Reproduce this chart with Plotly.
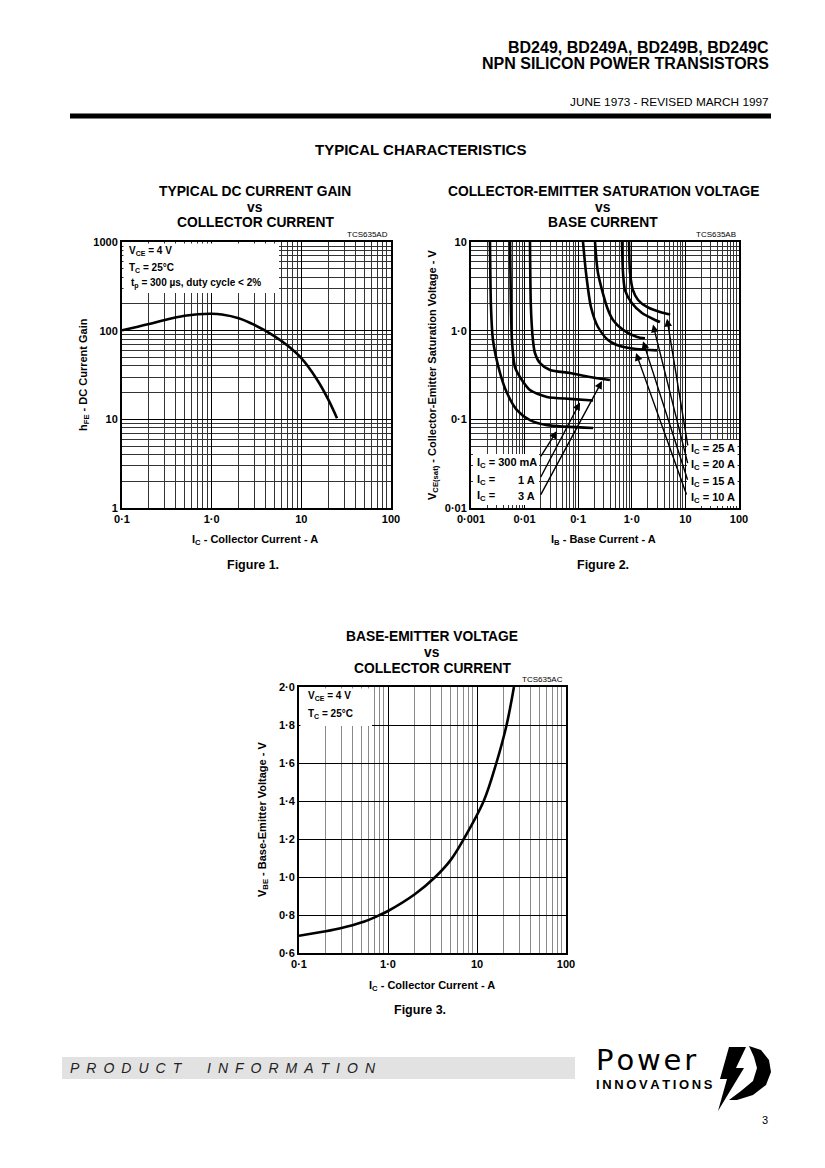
import numpy as np
import plotly.graph_objects as go

W, H = 825, 1168
OFF = 8  # the page body margin moves the figure by this many pixels
FONT = 'Liberation Sans, Arial, sans-serif'

# Figure 1 - hFE vs IC
ic_gain = [0.1, 0.15, 0.2, 0.3, 0.5, 0.7, 1.0, 1.3, 2.0, 3.0, 5.0, 7.0, 10, 15, 20, 25]
hfe = [101, 111, 119, 132, 147, 153, 155, 152, 138, 116, 87, 68, 49, 28, 16.7, 10.3]

# Figure 2 - VCE(sat) vs IB, one pair of lists per collector current
ib_300ma = [0.00226, 0.00236, 0.00257, 0.00348, 0.0047, 0.0072, 0.0126, 0.0262, 0.19]
vce_300ma = [10, 1.85, 0.785, 0.333, 0.198, 0.127, 0.098, 0.086, 0.08]
ib_1a = [0.00535, 0.00556, 0.0058, 0.0066, 0.0089, 0.0126, 0.0262, 0.070, 0.19]
vce_1a = [10, 1.85, 0.785, 0.389, 0.278, 0.214, 0.179, 0.17, 0.163]
ib_3a = [0.0126, 0.0131, 0.0143, 0.0156, 0.0194, 0.0298, 0.070, 0.166, 0.39]
vce_3a = [10, 1.85, 0.785, 0.56, 0.43, 0.36, 0.333, 0.30, 0.278]
ib_10a = [0.123, 0.140, 0.173, 0.234, 0.36, 0.60, 1.2, 2.95]
vce_10a = [10, 4.47, 1.85, 1.10, 0.785, 0.67, 0.62, 0.60]
ib_15a = [0.206, 0.234, 0.344, 0.446, 0.686, 1.25, 1.76]
vce_15a = [10, 4.47, 1.85, 1.32, 1.02, 0.85, 0.82]
ib_20a = [0.656, 0.686, 0.746, 1.0, 1.55, 2.71, 3.36]
vce_20a = [10, 4.47, 2.87, 2.05, 1.58, 1.32, 1.25]
ib_25a = [0.887, 0.93, 1.05, 1.31, 1.92, 3.36, 5.2]
vce_25a = [10, 4.47, 2.87, 2.22, 1.85, 1.62, 1.52]

# arrow tips (IB, VCE) and label text for figure 2
arrow_left_ib = [0.040, 0.108, 0.278]
arrow_left_v = [0.074, 0.155, 0.27]
arrow_right_ib = [4.54, 2.49, 1.62, 1.20]
arrow_right_v = [1.36, 1.17, 0.76, 0.56]
left_labels = ['300 mA', '1 A', '3 A']
right_labels = ['25 A', '20 A', '15 A', '10 A']

# Figure 3 - VBE vs IC
ic_vbe = [0.1, 0.2, 0.3, 0.5, 0.75, 1.0, 2.0, 3.4, 5.0, 7.1, 11.9, 16.5, 21.5, 26]
vbe = [0.691, 0.714, 0.731, 0.760, 0.793, 0.821, 0.909, 1.0, 1.086, 1.2, 1.4, 1.6, 1.8, 2.0]

# tick labels
gain_xticks = ['0·1', '1·0', '10', '100']
gain_yticks = ['1', '10', '100', '1000']
sat_xticks = ['0·001', '0·01', '0·1', '1·0', '10', '100']
sat_yticks = ['0·01', '0·1', '1·0', '10']
vbe_xticks = ['0·1', '1·0', '10', '100']
vbe_yvals = [0.6, 0.8, 1.0, 1.2, 1.4, 1.6, 1.8, 2.0]
vbe_yticks = ['0·6', '0·8', '1·0', '1·2', '1·4', '1·6', '1·8', '2·0']


def px(x):
    return (x - OFF) / W


def py(y):
    return 1 - (y - OFF) / H


def minor_vals(lo, hi):
    return [k * 10.0 ** e for e in range(lo, hi) for k in range(2, 10)]


tickfont = dict(size=11, family=FONT, color='black', weight='bold')


def log_axis(lo, hi, dom, anchor, labels, minor_color='#333333'):
    return dict(type='log', range=[lo, hi], domain=dom, anchor=anchor, automargin=False,
                showline=True, mirror=True, linecolor='black', linewidth=2,
                showgrid=True, gridcolor='black', gridwidth=1.3, zeroline=False,
                tickmode='array', tickvals=[10.0 ** e for e in range(lo, hi + 1)], ticktext=labels,
                ticks='', tickfont=tickfont,
                minor=dict(tickvals=minor_vals(lo, hi), showgrid=True, gridcolor=minor_color,
                           gridwidth=1, ticks=''))


fig = go.Figure()

line = dict(color='black', width=2.6, shape='spline', smoothing=1.0)
fig.add_trace(go.Scatter(x=ic_gain, y=hfe, mode='lines', line=line, xaxis='x', yaxis='y'))
for ib, v in [(ib_300ma, vce_300ma), (ib_1a, vce_1a), (ib_3a, vce_3a), (ib_10a, vce_10a),
              (ib_15a, vce_15a), (ib_20a, vce_20a), (ib_25a, vce_25a)]:
    fig.add_trace(go.Scatter(x=ib, y=v, mode='lines', line=dict(line, smoothing=0.7),
                             xaxis='x2', yaxis='y2'))
fig.add_trace(go.Scatter(x=ic_vbe, y=vbe, mode='lines', line=line, xaxis='x3', yaxis='y3'))

top_dom = [py(508), py(242)]
fig.update_layout(
    xaxis=log_axis(-1, 2, [px(122), px(391)], 'y', gain_xticks),
    yaxis=log_axis(0, 3, top_dom, 'x', gain_yticks),
    xaxis2=log_axis(-3, 2, [px(471), px(739)], 'y2', sat_xticks),
    yaxis2=log_axis(-2, 1, top_dom, 'x2', sat_yticks),
    xaxis3=log_axis(-1, 2, [px(299), px(566)], 'y3', vbe_xticks, minor_color='#8a8a8a'),
    yaxis3=dict(range=[0.6, 2.0], domain=[py(953), py(687)], anchor='x3', automargin=False,
                showline=True, mirror=True, linecolor='black', linewidth=2,
                showgrid=True, gridcolor='black', gridwidth=1, zeroline=False,
                tickmode='array', tickvals=vbe_yvals, ticktext=vbe_yticks, ticks='',
                tickfont=tickfont),
)

ann = []


def txt(x, y, s, size=11, anchor='center', bold=True, angle=0, family=FONT, color='black', italic=False):
    ann.append(dict(x=px(x), y=py(y), xref='paper', yref='paper', text=s, showarrow=False,
                    xanchor=anchor, yanchor='middle', textangle=angle,
                    font=dict(size=size, family=family, color=color,
                              weight='bold' if bold else 'normal',
                              style='italic' if italic else 'normal')))


# header
txt(771, 47, 'BD249, BD249A, BD249B, BD249C', 16, 'right')
txt(771, 64, 'NPN SILICON POWER TRANSISTORS', 16, 'right')
txt(771, 102, 'JUNE 1973 - REVISED MARCH 1997', 11.8, 'right', bold=False)
txt(420, 150, 'TYPICAL CHARACTERISTICS', 15)

# figure 1 texts
txt(255, 191, 'TYPICAL DC CURRENT GAIN', 13.8)
txt(255, 207, 'vs', 13.8)
txt(255, 223, 'COLLECTOR CURRENT', 13.8)
txt(390, 234, 'TCS635AD', 8, 'right', bold=False)
txt(127, 251, 'V<sub>CE</sub> = 4 V', 10, 'left')
txt(127, 268, 'T<sub>C</sub> = 25°C', 10, 'left')
txt(129, 284, 't<sub>p</sub> = 300 µs, duty cycle < 2%', 10, 'left')
txt(255, 540, 'I<sub>C</sub> - Collector Current - A', 11)
txt(84, 375, 'h<sub>FE</sub> - DC Current Gain', 11, angle=-90)
txt(253, 565, 'Figure 1.', 12.5)

# figure 2 texts
txt(603, 191, 'COLLECTOR-EMITTER SATURATION VOLTAGE', 13.8)
txt(603, 207, 'vs', 13.8)
txt(603, 223, 'BASE CURRENT', 13.8)
txt(738, 234, 'TCS635AB', 8, 'right', bold=False)
txt(603, 540, 'I<sub>B</sub> - Base Current - A', 11)
txt(433, 375, 'V<sub>CE(sat)</sub> - Collector-Emitter Saturation Voltage - V', 11, angle=-90)
txt(603, 565, 'Figure 2.', 12.5)
for i, lab in enumerate(left_labels):
    yy = 463 + i * 16.7
    if i == 0:
        txt(475, yy, 'I<sub>C</sub> = ' + lab, 11, 'left')
    else:
        txt(475, yy, 'I<sub>C</sub> =', 11, 'left')
        txt(537, yy, lab, 11, 'right')
for i, lab in enumerate(right_labels):
    txt(689, 449 + i * 16.3, 'I<sub>C</sub> = ' + lab, 11, 'left')

# figure 3 texts
txt(432, 636, 'BASE-EMITTER VOLTAGE', 13.8)
txt(432, 652, 'vs', 13.8)
txt(432, 668, 'COLLECTOR CURRENT', 13.8)
txt(565, 679, 'TCS635AC', 8, 'right', bold=False)
txt(306, 696, 'V<sub>CE</sub> = 4 V', 10, 'left')
txt(306, 714, 'T<sub>C</sub> = 25°C', 10, 'left')
txt(432, 986, 'I<sub>C</sub> - Collector Current - A', 11)
txt(263, 820, 'V<sub>BE</sub> - Base-Emitter Voltage - V', 11, angle=-90)
txt(420, 1010, 'Figure 3.', 12.5)

# footer
sp = '\u2002'
txt(68, 1068, sp.join('PRODUCT'), 14, 'left', bold=False, italic=True, color='#222')
txt(205, 1068, sp.join('INFORMATION'), 14, 'left', bold=False, italic=True, color='#222')
txt(594, 1060, '\u200a'.join('Power'), 29, 'left', bold=False, family='DejaVu Sans, sans-serif')
txt(594, 1084, '\u2009'.join('INNOVATIONS'), 13, 'left')
txt(765, 1120, '3', 11, bold=False)

# arrows in figure 2
left_tails = [(-17, 27), (-40, 76), (-62, 115)]
right_tails = [(21, 128), (35, 140), (45, 140), (51, 143)]
for ib, v, (dx, dy) in zip(arrow_left_ib + arrow_right_ib, arrow_left_v + arrow_right_v, left_tails + right_tails):
    ann.append(dict(x=np.log10(ib), y=np.log10(v), xref='x2', yref='y2', ax=dx, ay=dy,
                    text='', showarrow=True, arrowhead=2, arrowsize=1.1, arrowwidth=1.4,
                    arrowcolor='black'))
fig.update_layout(annotations=ann)


def rect(x0, y0, x1, y1, fill='white', layer='above'):
    return dict(type='rect', xref='paper', yref='paper', x0=px(x0), x1=px(x1), y0=py(y0), y1=py(y1),
                fillcolor=fill, line=dict(width=0), layer=layer)


def poly(pts):
    path = 'M ' + ' L '.join(f'{px(a):.5f},{py(b):.5f}' for a, b in pts) + ' Z'
    return dict(type='path', xref='paper', yref='paper', path=path, fillcolor='black',
                line=dict(width=0), layer='above')


shapes = [
    dict(type='line', xref='paper', yref='paper', x0=px(70), x1=px(771), y0=py(116), y1=py(116),
         line=dict(color='black', width=5)),
    rect(123.5, 243.5, 279, 293),
    rect(300.5, 688.5, 372, 726),
    rect(473, 454, 539, 505),
    rect(687, 440, 737.5, 506),
    rect(62, 1057, 575, 1079, fill='#e2e2e2', layer='below'),
    poly([(729, 1047), (746, 1047), (736, 1068), (744, 1068), (718, 1111), (727, 1079), (720, 1079)]),
    poly([(749, 1046), (761, 1050), (769, 1060), (771, 1072), (766, 1085), (753, 1095), (737, 1100),
          (729, 1100), (741, 1091), (753, 1081), (757, 1068), (754, 1057)]),
]
fig.update_layout(shapes=shapes)

fig.update_layout(width=W, height=H, margin=dict(l=0, r=0, t=0, b=0), showlegend=False,
                  paper_bgcolor='white', plot_bgcolor='white')
fig.write_html('out.html')
